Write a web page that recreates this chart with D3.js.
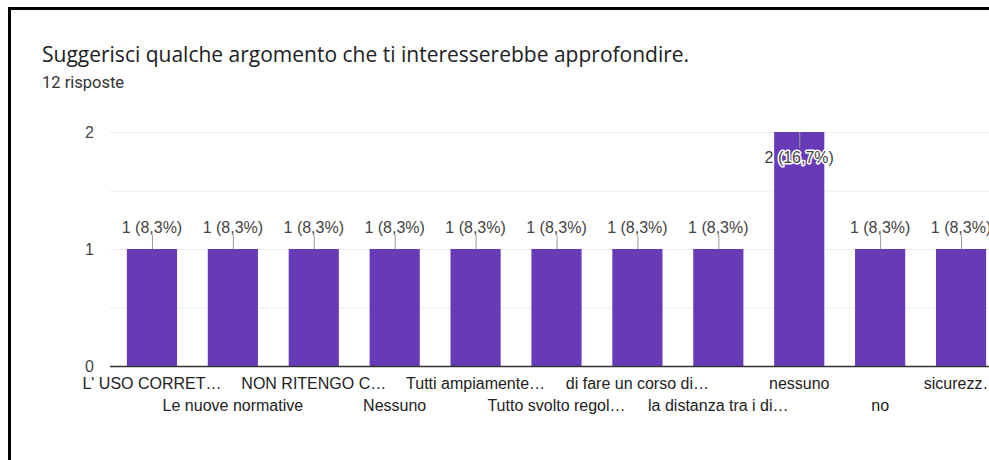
<!DOCTYPE html>
<html>
<head>
<meta charset="utf-8">
<script src="https://cdn.jsdelivr.net/npm/d3@7"></script>
<style>
  html, body { margin: 0; padding: 0; background: #fff; }
  svg { display: block; }
</style>
</head>
<body>
<svg id="chart" width="989" height="460"></svg>
<script>
// Risposte alla domanda aperta, raggruppate per testo
const categories = [
  "L' USO CORRET…",
  "Le nuove normative",
  "NON RITENGO C…",
  "Nessuno",
  "Tutti ampiamente…",
  "Tutto svolto regol…",
  "di fare un corso di…",
  "la distanza tra i di…",
  "nessuno",
  "no",
  "sicurezz…"
];
const counts = [1, 1, 1, 1, 1, 1, 1, 1, 2, 1, 1];
const valueLabels = ["1 (8,3%)", "1 (8,3%)", "1 (8,3%)", "1 (8,3%)", "1 (8,3%)", "1 (8,3%)", "1 (8,3%)", "1 (8,3%)", "2 (16,7%)", "1 (8,3%)", "1 (8,3%)"];
const yTicks = [0, 1, 2];
const gridTicks = [0.5, 1, 1.5, 2];
const title = "Suggerisci qualche argomento che ti interesserebbe approfondire.";
const subtitle = "12 risposte";

const svg = d3.select("#chart");
const W = 989, H = 460;

// cornice della scheda
svg.append("path")
  .attr("d", `M9.5,${H} V8.5 H${W}`)
  .attr("fill", "none")
  .attr("stroke", "#000")
  .attr("stroke-width", 3);

svg.append("text")
  .attr("x", 42).attr("y", 62)
  .attr("font-family", "'Open Sans', sans-serif")
  .attr("font-size", 21)
  .attr("fill", "#202124")
  .text(title);

svg.append("text")
  .attr("x", 42).attr("y", 88)
  .attr("font-family", "Roboto, sans-serif")
  .attr("font-size", 16.5)
  .attr("fill", "#333")
  .text(subtitle);

const x = d3.scaleBand()
  .domain(categories)
  .range([111.5, 1001.5])
  .paddingInner(0.38)
  .paddingOuter(0.19);

const y = d3.scaleLinear().domain([0, 2]).range([366, 132]);

const font = "Arial, 'Liberation Sans', sans-serif";

// griglia
svg.append("g")
  .selectAll("line")
  .data(gridTicks)
  .join("line")
  .attr("x1", 110).attr("x2", W)
  .attr("y1", d => y(d) + 0.5).attr("y2", d => y(d) + 0.5)
  .attr("stroke", "#ececec")
  .attr("stroke-width", 1);

// asse y
const yAxis = d3.axisLeft(y).tickValues(yTicks).tickFormat(d3.format("d")).tickSize(0).tickPadding(16);
const gy = svg.append("g").attr("transform", "translate(110,0)").call(yAxis);
gy.select(".domain").remove();
gy.selectAll("text")
  .attr("font-family", font)
  .attr("font-size", 16)
  .attr("fill", "#444");

// barre
svg.append("g")
  .selectAll("rect")
  .data(categories)
  .join("rect")
  .attr("x", d => x(d))
  .attr("width", x.bandwidth())
  .attr("y", (d, i) => y(counts[i]))
  .attr("height", (d, i) => y(0) - y(counts[i]))
  .attr("fill", "#673ab7");

// linea dello zero
svg.append("line")
  .attr("x1", 110).attr("x2", W)
  .attr("y1", y(0) + 0.5).attr("y2", y(0) + 0.5)
  .attr("stroke", "#333")
  .attr("stroke-width", 1.5);

// etichette dei valori con linea guida
const yMax = d3.max(counts);
const lab = svg.append("g");
categories.forEach((c, i) => {
  const cx = x(c) + x.bandwidth() / 2;
  const top = y(counts[i]);
  const inside = counts[i] === yMax;
  const lineEnd = inside ? top + 16 : top - 14;
  lab.append("line")
    .attr("x1", cx + 0.5).attr("x2", cx + 0.5)
    .attr("y1", top).attr("y2", lineEnd)
    .attr("stroke", "#999")
    .attr("stroke-width", 1);
  const t = lab.append("text")
    .attr("x", cx)
    .attr("y", inside ? top + 31 : top - 16)
    .attr("text-anchor", "middle")
    .attr("font-family", font)
    .attr("font-size", 16)
    .attr("fill", "#444")
    .text(valueLabels[i]);
  if (inside) {
    t.attr("stroke", "#fff").attr("stroke-width", 3).attr("paint-order", "stroke").attr("stroke-linejoin", "round");
  }
});

// etichette delle categorie su due righe alternate
const xAxis = d3.axisBottom(x).tickSize(0).tickPadding(0);
const gx = svg.append("g").attr("transform", `translate(0,${y(0)})`).call(xAxis);
gx.select(".domain").remove();
gx.selectAll("text")
  .attr("font-family", font)
  .attr("font-size", 16)
  .attr("fill", "#222")
  .attr("dy", null)
  .attr("y", (d, i) => i % 2 === 0 ? 23 : 45);
</script>
</body>
</html>
